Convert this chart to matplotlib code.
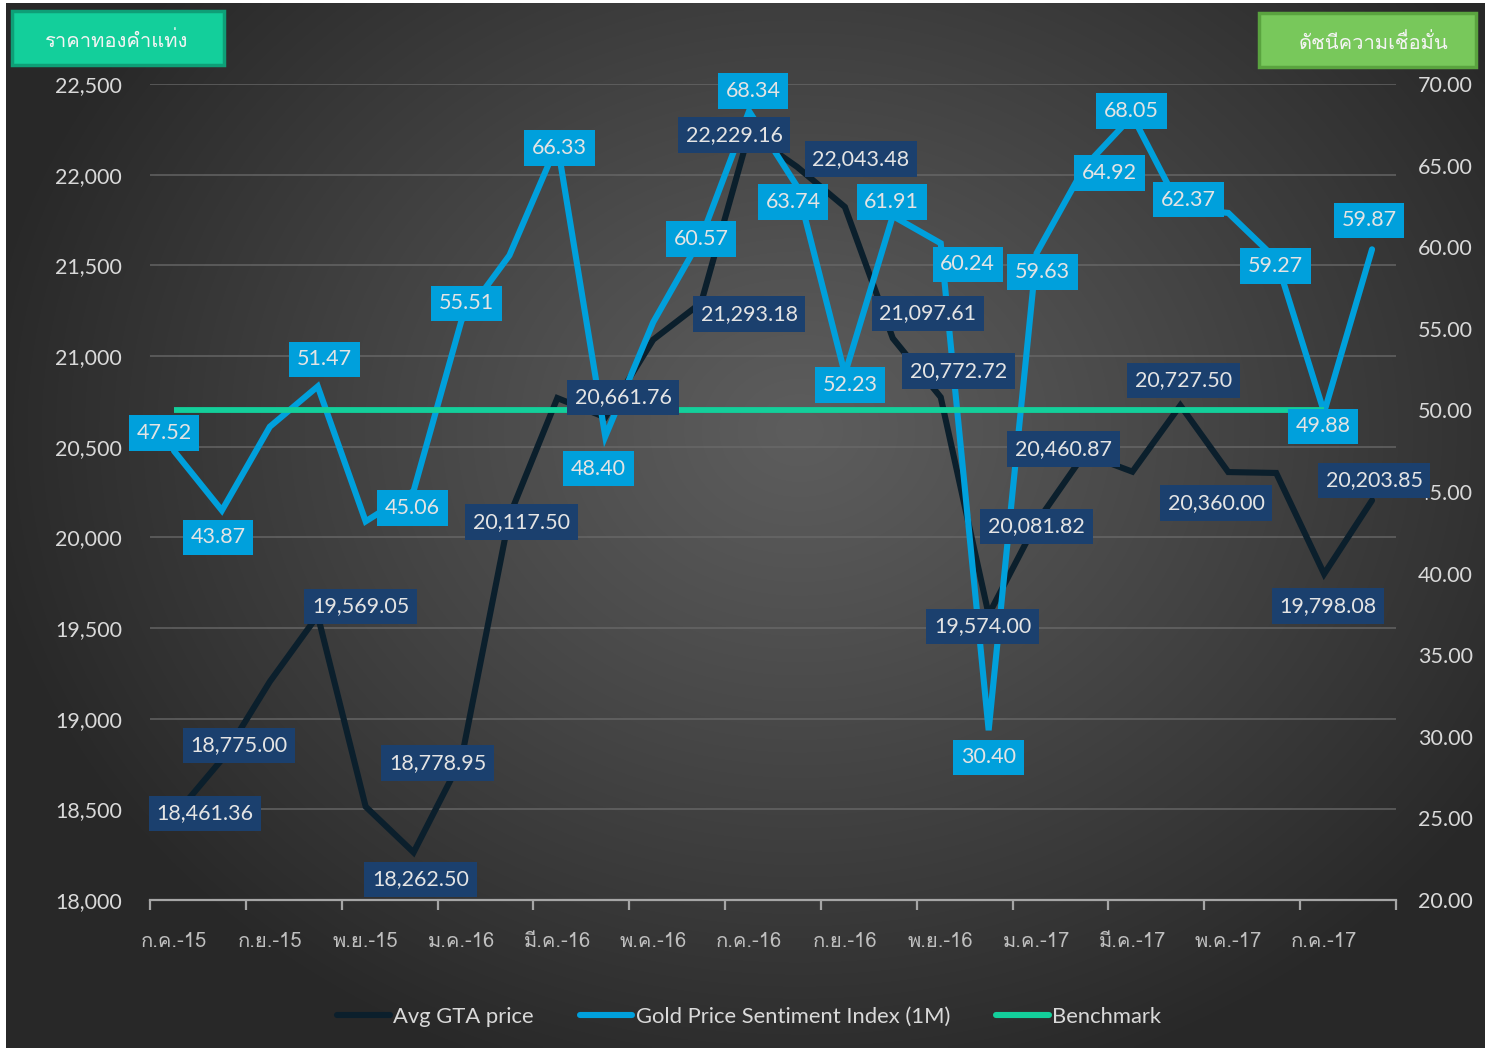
import numpy as np
import matplotlib
matplotlib.use("Agg")
import matplotlib.pyplot as plt
from matplotlib import font_manager
from matplotlib.ft2font import FT2Font
from matplotlib.patches import Rectangle
from matplotlib.lines import Line2D
from matplotlib.ticker import FixedLocator, FuncFormatter

# ---------------- data ----------------
months = ["ก.ค.-15", "ส.ค.-15", "ก.ย.-15", "ต.ค.-15", "พ.ย.-15", "ธ.ค.-15",
          "ม.ค.-16", "ก.พ.-16", "มี.ค.-16", "เม.ย.-16", "พ.ค.-16", "มิ.ย.-16",
          "ก.ค.-16", "ส.ค.-16", "ก.ย.-16", "ต.ค.-16", "พ.ย.-16", "ธ.ค.-16",
          "ม.ค.-17", "ก.พ.-17", "มี.ค.-17", "เม.ย.-17", "พ.ค.-17", "มิ.ย.-17",
          "ก.ค.-17", "ส.ค.-17"]

gta_price = [18461.36, 18775.00, 19204.00, 19569.05, 18515.00, 18262.50,
             18778.95, 20117.50, 20768.00, 20661.76, 21090.00, 21293.18,
             22229.16, 22043.48, 21822.00, 21097.61, 20772.72, 19574.00,
             20081.82, 20460.87, 20362.00, 20727.50, 20360.00, 20355.00,
             19798.08, 20203.85]

sentiment = [47.52, 43.87, 49.00, 51.47, 43.20, 45.06,
             55.51, 59.50, 66.33, 48.40, 55.40, 60.57,
             68.34, 63.74, 52.23, 61.91, 60.24, 30.40,
             59.63, 64.92, 68.05, 62.37, 62.10, 59.27,
             49.88, 59.87]

benchmark = [50.00, 50.00, 50.00, 50.00, 50.00, 50.00,
             50.00, 50.00, 50.00, 50.00, 50.00, 50.00,
             50.00, 50.00, 50.00, 50.00, 50.00, 50.00,
             50.00, 50.00, 50.00, 50.00, 50.00, 50.00,
             50.00, np.nan]

x_tick_labels = months[::2]
left_ticks = [18000, 18500, 19000, 19500, 20000, 20500, 21000, 21500, 22000, 22500]
right_ticks = [20, 25, 30, 35, 40, 45, 50, 55, 60, 65, 70]

series_names = ["Avg GTA price", "Gold Price Sentiment Index (1M)", "Benchmark"]
left_title = "ราคาทองคำแท่ง"
right_title = "ดัชนีความเชื่อมั่น"

# which points carry a data label, and where the label box sits (pixel offsets)
gta_label_offsets = {0: (31, -3), 1: (17, -14), 3: (43, -9), 5: (7, 27), 6: (-24, 4),
                     7: (12, 6), 9: (18, -20), 11: (48, 11), 12: (-15, 2), 13: (64, -8),
                     15: (35, -25), 16: (18, -26), 17: (-6, 12), 18: (0, 4), 19: (-21, -5),
                     21: (3, -25), 22: (-12, 31), 24: (4, 32), 25: (2, -20)}
sent_label_offsets = {0: (-10, -18), 1: (-4, 27), 3: (7, -27), 5: (-1, 17), 6: (5, -17),
                      8: (2, 4), 9: (-7, 32), 11: (0, 1), 12: (4, -20), 13: (-4, 16),
                      14: (5, 11), 15: (-1, -14), 16: (27, 21), 17: (0, 27), 18: (6, 19),
                      19: (25, 6), 20: (-1, -5), 21: (8, -9), 23: (-1, 7), 24: (-1, 14),
                      25: (-3, -29)}

# ---------------- fonts ----------------
def thai_fonts():
    found = []
    for f in font_manager.fontManager.ttflist:
        try:
            ft = FT2Font(f.fname)
            if ft.get_char_index(ord("ก")) and ft.get_char_index(ord("ำ")):
                if f.name not in found:
                    found.append(f.name)
        except Exception:
            pass
    return found

_th = thai_fonts()
LATIN = ["Lato", "DejaVu Sans"]
THAI = (_th[:1] if _th else []) + ["DejaVu Sans"]
plt.rcParams["font.family"] = LATIN

W, H = 1490, 1052
fig = plt.figure(figsize=(W / 100, H / 100), dpi=100)
fig.patch.set_facecolor("white")

def fx(px):
    return px / W

def fy(py):
    return 1 - py / H

# ---------------- background gradient ----------------
bx0, by0, bx1, by1 = 6, 3, 1485, 1048
bg = fig.add_axes([fx(bx0), fy(by1), fx(bx1 - bx0), (by1 - by0) / H], zorder=-10)
gx = np.linspace(bx0, bx1, 400)
gy = np.linspace(by0, by1, 300)
GX, GY = np.meshgrid(gx, gy)
cx, cy = 800, 430
d = np.sqrt(((GX - cx) / 820.0) ** 2 + ((GY - cy) / 680.0) ** 2)
d = np.clip(d, 0, 1)
c_in, c_out = 0.365, 0.16
val = c_in + (c_out - c_in) * d ** 1.1
bg.imshow(np.dstack([val, val, val]), aspect="auto", extent=[0, 1, 0, 1], interpolation="bilinear")
bg.set_axis_off()

# ---------------- main axes ----------------
ax = fig.add_axes([fx(150), fy(900), fx(1396 - 150), (900 - 84) / H])
ax.patch.set_visible(False)
ax2 = ax.twinx()
ax2.patch.set_visible(False)

x = np.arange(len(months))
GTA_C = "#0B1F2C"
SENT_C = "#00A0DC"
BENCH_C = "#13CF9B"

ax.plot(x, gta_price, color=GTA_C, lw=4.4, solid_joinstyle="miter", solid_capstyle="round", zorder=3)
ax2.plot(x, sentiment, color=SENT_C, lw=4.4, solid_joinstyle="miter", solid_capstyle="round", zorder=3)
ax2.plot(x, benchmark, color=BENCH_C, lw=4.2, solid_capstyle="butt", zorder=4)

ax.set_xlim(-0.5, len(months) - 0.5)
ax.set_ylim(18000, 22500)
ax2.set_ylim(20, 70)

# gridlines from left axis
for v in left_ticks[1:]:
    ax.axhline(v, color="#6a6a6a", lw=1.3, alpha=0.75, zorder=1)

for a in (ax, ax2):
    for s in a.spines.values():
        s.set_visible(False)
ax.spines["bottom"].set_visible(True)
ax.spines["bottom"].set_color("#a6a6a6")
ax.spines["bottom"].set_linewidth(1.6)

# x ticks: marks at boundaries every 2 categories, labels at category centres
ax.xaxis.set_major_locator(FixedLocator(np.arange(-0.5, len(months), 2)))
ax.xaxis.set_major_formatter(FuncFormatter(lambda v, p: ""))
ax.set_xticks(x[::2], minor=True)
ax.set_xticklabels(x_tick_labels, minor=True)
ax.tick_params(axis="x", which="major", direction="out", length=7, width=1.6, color="#a6a6a6")
ax.tick_params(axis="x", which="minor", length=0, pad=23, labelsize=14.5, labelcolor="#bfbfbf")
for t in ax.get_xticklabels(minor=True):
    t.set_family(THAI)

ax.set_yticks(left_ticks)
ax.set_yticklabels([f"{v:,.0f}" for v in left_ticks])
ax.tick_params(axis="y", length=0, pad=20, labelsize=15.5, labelcolor="#d9d9d9")
ax2.set_yticks(right_ticks)
ax2.set_yticklabels([f"{v:.2f}" for v in right_ticks])
ax2.tick_params(axis="y", length=0, pad=16, labelsize=15.5, labelcolor="#d9d9d9")

# ---------------- data labels ----------------
K = 0.72  # px -> points
lab_kw = dict(textcoords="offset points", ha="center", va="center", fontsize=15.5,
              color="#e4e4e4", zorder=20, annotation_clip=False)
for i, (dx, dy) in gta_label_offsets.items():
    ax2.annotate(f"{gta_price[i]:,.2f}", xy=(x[i], gta_price[i]), xycoords=ax.transData,
                 xytext=(dx * K, -dy * K),
                 bbox=dict(boxstyle="square,pad=0.36", fc="#1B406E", ec="none"), **lab_kw)
for i, (dx, dy) in sent_label_offsets.items():
    ax2.annotate(f"{sentiment[i]:.2f}", xy=(x[i], sentiment[i]), xycoords=ax2.transData,
                 xytext=(dx * K, -dy * K),
                 bbox=dict(boxstyle="square,pad=0.36", fc="#00A0DC", ec="none"), **lab_kw)

# ---------------- title boxes ----------------
def title_box(x0, y0, x1, y1, fc, ec, text, tx):
    r = Rectangle((fx(x0), fy(y1)), fx(x1 - x0), (y1 - y0) / H, transform=fig.transFigure,
                  fc=fc, ec=ec, lw=2.5, zorder=5)
    fig.add_artist(r)
    fig.text(fx(tx), fy((y0 + y1) / 2 + 3), text, ha="center", va="center",
             fontsize=14.5, color="#f4f4f4", family=THAI, zorder=6)

title_box(12, 11, 224, 65, "#13CF9B", "#0E9F77", left_title, 117)
title_box(1259, 13, 1476, 67, "#78C85B", "#5AA33F", right_title, 1373)

# ---------------- legend ----------------
handles = [Line2D([], [], color=GTA_C, lw=4.4, solid_capstyle="round"),
           Line2D([], [], color=SENT_C, lw=4.4, solid_capstyle="round"),
           Line2D([], [], color=BENCH_C, lw=4.4, solid_capstyle="round")]
leg = fig.legend(handles, series_names, loc="center", bbox_to_anchor=(fx(749), fy(1017)),
                 ncol=3, frameon=False, fontsize=15.8, handlelength=2.4, handletextpad=0.15,
                 columnspacing=2.1, labelcolor="#d9d9d9")

fig.savefig("out.png", dpi=100, facecolor=fig.get_facecolor())
